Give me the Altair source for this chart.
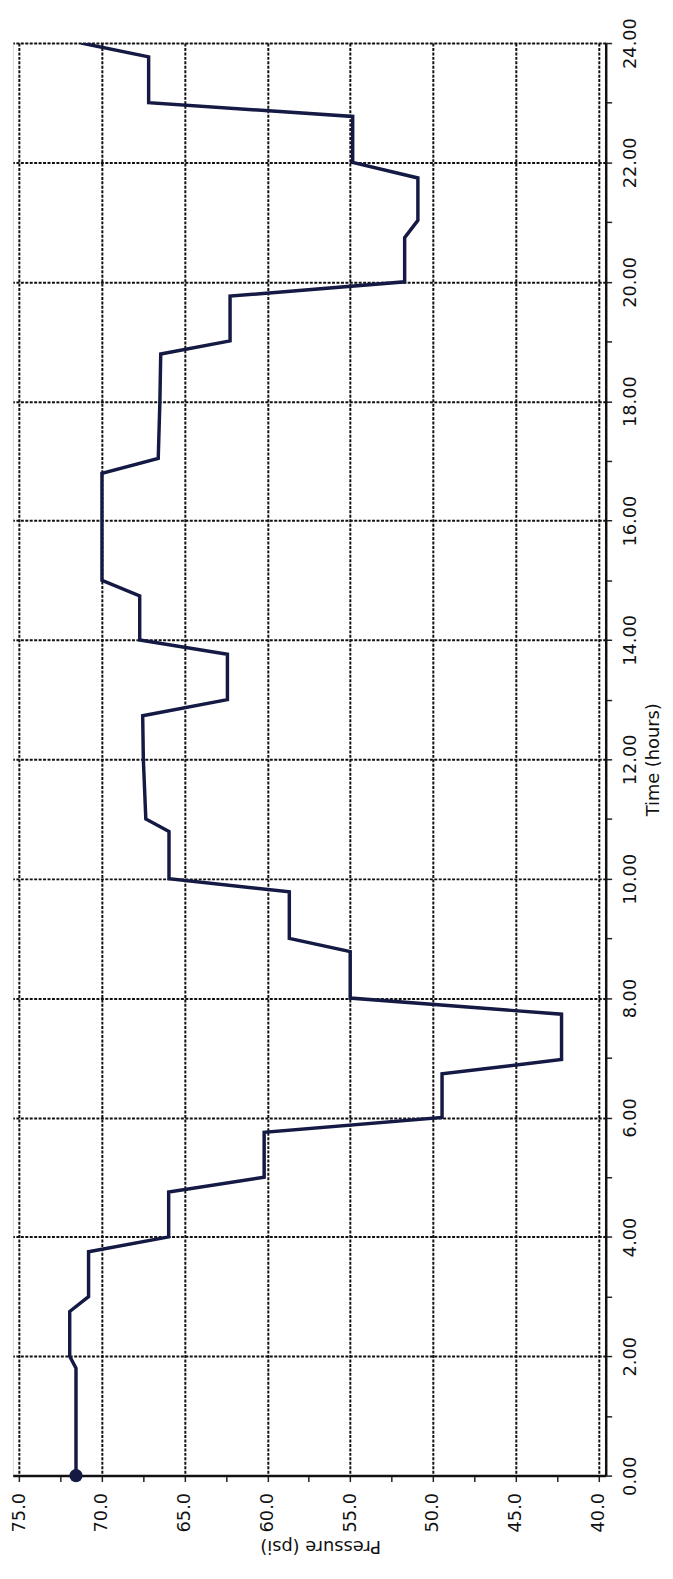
import altair as alt
import pandas as pd

# Pressure trace (time in hours, pressure in psi)
time_h = [0.0, 1.8, 2.0, 2.75, 3.0, 3.75, 4.0, 4.75, 5.0, 5.75, 6.0, 6.73, 6.97,
          7.73, 8.0, 8.78, 9.0, 9.78, 10.0, 10.79, 11.0, 12.0, 12.73, 13.0, 13.76,
          14.0, 14.74, 15.0, 16.79, 17.04, 18.0, 18.79, 19.01, 19.76, 20.0, 20.74,
          21.03, 21.74, 22.0, 22.77, 23.0, 23.77, 24.0]
pressure_psi = [71.57, 71.57, 71.95, 71.95, 70.81, 70.81, 65.97, 65.97, 60.2, 60.2,
                49.45, 49.45, 42.23, 42.23, 55.0, 55.0, 58.68, 58.68, 65.95, 65.95,
                67.35, 67.5, 67.54, 62.42, 62.42, 67.72, 67.72, 70.0, 70.0, 66.6,
                66.5, 66.45, 62.26, 62.26, 51.71, 51.71, 50.91, 50.91, 54.85, 54.85,
                67.18, 67.18, 71.25]

start_time = [0.0]
start_pressure = [71.57]

pressure_ticks = [40, 41.25, 42.5, 43.75, 45, 46.25, 47.5, 48.75, 50, 51.25, 52.5,
                  53.75, 55, 56.25, 57.5, 58.75, 60, 61.25, 62.5, 63.75, 65, 66.25,
                  67.5, 68.75, 70, 71.25, 72.5, 73.75, 75]
time_ticks = [0, 0.5, 1, 1.5, 2, 2.5, 3, 3.5, 4, 4.5, 5, 5.5, 6, 6.5, 7, 7.5, 8, 8.5,
              9, 9.5, 10, 10.5, 11, 11.5, 12, 12.5, 13, 13.5, 14, 14.5, 15, 15.5, 16,
              16.5, 17, 17.5, 18, 18.5, 19, 19.5, 20, 20.5, 21, 21.5, 22, 22.5, 23,
              23.5, 24]

pressure_domain = [75.38, 39.56]
time_domain = [0, 24]

line_df = pd.DataFrame({"t": time_h, "p": pressure_psi, "order": list(range(len(time_h)))})
start_df = pd.DataFrame({"t": start_time, "p": start_pressure})

FONT = "DejaVu Sans"
NAVY = "#141a44"
INK = "#111111"

x_enc = alt.X(
    "p:Q",
    scale=alt.Scale(domain=pressure_domain, nice=False, zero=False),
    axis=alt.Axis(
        title="Pressure (psi)",
        orient="bottom",
        values=pressure_ticks,
        labelExpr="datum.value % 5 === 0 ? format(datum.value, '.1f') : ''",
        labelAngle=270,
        labelAlign="right",
        labelBaseline="middle",
        labelPadding=11,
        labelFlush=False,
        labelOverlap=False,
        labelFont=FONT,
        labelFontSize=18,
        labelColor=INK,
        titleFont=FONT,
        titleFontSize=18,
        titleFontWeight="normal",
        titleColor=INK,
        titleAngle=180,
        titleBaseline="bottom",
        titlePadding=5,
        titleX=311,
        grid=True,
        gridColor="#111111",
        gridWidth=2,
        gridDash=[3, 1.5],
        gridOpacity={"condition": {"test": "datum.value % 5 === 0", "value": 1}, "value": 0},
        tickSize=6,
        tickWidth=1.5,
        tickColor="#222222",
        domainColor=INK,
        domainWidth=2.5,
    ),
)

y_enc = alt.Y(
    "t:Q",
    scale=alt.Scale(domain=time_domain, nice=False, zero=False),
    axis=alt.Axis(
        title="Time (hours)",
        orient="right",
        values=time_ticks,
        labelExpr="datum.value % 2 === 0 ? format(datum.value, '.2f') : ''",
        labelAngle=270,
        labelAlign="center",
        labelBaseline="top",
        labelPadding=10,
        labelFlush=False,
        labelOverlap=False,
        labelFont=FONT,
        labelFontSize=18,
        labelColor=INK,
        titleFont=FONT,
        titleFontSize=18,
        titleFontWeight="normal",
        titleColor=INK,
        titleAngle=270,
        titleBaseline="top",
        titlePadding=5,
        grid=True,
        gridColor="#111111",
        gridWidth=2,
        gridDash=[3, 1.5],
        gridOpacity={"condition": {"test": "datum.value % 2 === 0", "value": 1}, "value": 0},
        tickSize=6,
        tickWidth=1.5,
        tickColor="#222222",
        domainColor=INK,
        domainWidth=2.5,
    ),
)

line = alt.Chart(line_df).mark_line(color=NAVY, strokeWidth=3.5, clip=True).encode(
    x=x_enc, y=y_enc, order="order:Q"
)

dot = alt.Chart(start_df).mark_point(filled=True, color=NAVY, size=180, opacity=1).encode(
    x="p:Q", y="t:Q"
)

chart = (
    alt.layer(line, dot)
    .properties(
        width=600,
        height=1450,
        autosize=alt.AutoSizeParams(type="none"),
        padding={"left": 5, "top": 26, "right": 60, "bottom": 82},
    )
    .configure_view(stroke=INK, strokeWidth=1)
    .configure(background="white")
)

chart.save("out.html", embed_options={"renderer": "svg", "actions": False})
